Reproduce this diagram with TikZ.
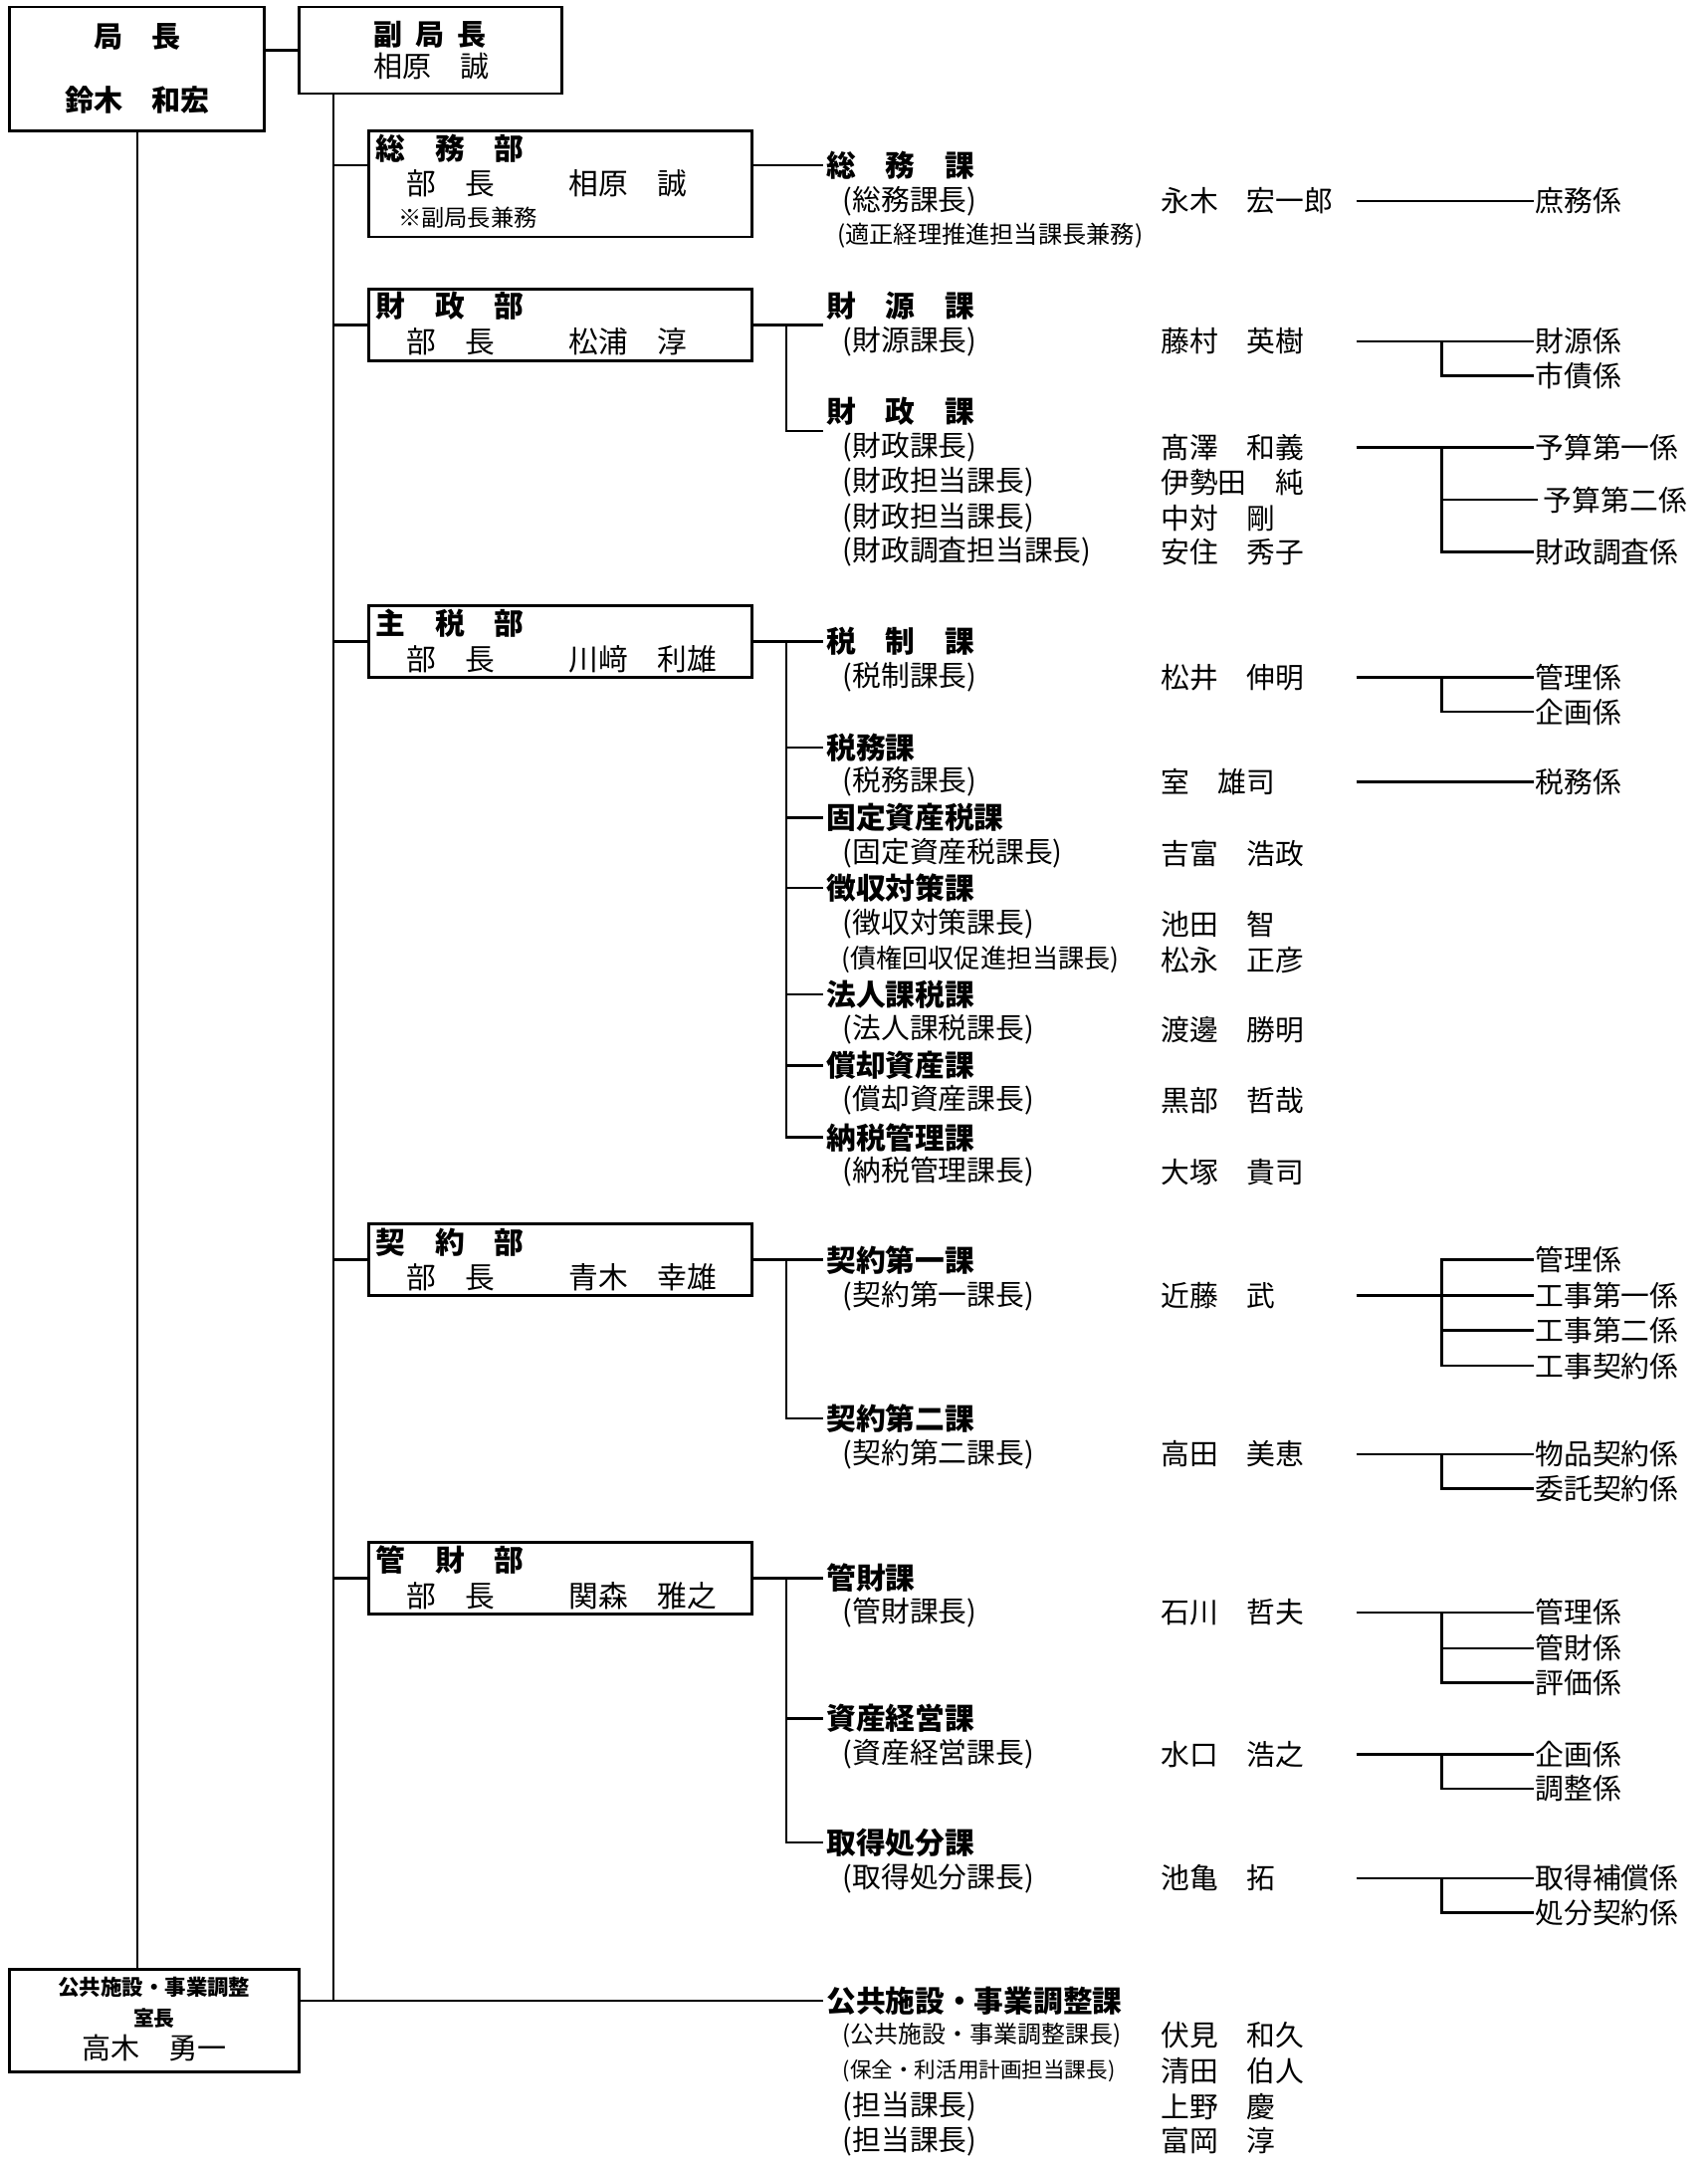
\documentclass[tikz,border=0pt]{standalone}
\usepackage{fontspec}
\setmainfont{Noto Sans CJK JP}
\newcommand\fz[1]{\fontsize{#1}{#1}\selectfont}
\tikzset{
  box/.style={draw, line width=2pt, rectangle, inner sep=0pt},
  tx/.style={anchor=west, inner sep=0pt, font=\fz{20.8}},
  hd/.style={anchor=west, inner xsep=2pt, inner ysep=0pt, font=\fz{21.5}\bfseries},
  kk/.style={anchor=west, inner xsep=1pt, inner ysep=0pt, font=\fz{20.8}},
  ln/.style={line width=1.8pt},
  tl/.style={line width=1.5pt}
}
\begin{document}
\begin{tikzpicture}[x=1pt,y=-1pt]
\useasboundingbox (0,0) rectangle (1240,1568);
\coordinate (trunk) at (242,0);
\coordinate (sub) at (571,0);
\coordinate (nm) at (985,0);
\coordinate (br) at (1047,0);

% ---------- top boxes
\node[box, minimum width=185pt, minimum height=90pt] (kyoku) at (99.5,50) {};
\node[font=\fz{21}\bfseries, inner sep=0pt] (kyokuT) at (99.5,27) {局　長};
\node[font=\fz{21}\bfseries, inner sep=0pt] (kyokuN) at (99.5,73) {鈴木　和宏};

\node[box, minimum width=191pt, minimum height=63pt] (fuku) at (312.5,36.5) {};
\node[tx, font=\fz{21}\bfseries] (fukuT) at (271,25) {副\hspace{.45em}局\hspace{.45em}長};
\node[tx, font=\fz{21}] (fukuN) at (271,48) {相原　誠};

\draw[ln] (kyoku.east |- fuku.west) -- (fuku.west);

% ---------- 室長 box
\node[box, minimum width=210pt, minimum height=75pt] (shitsu) at (112,1467.5) {};
\node[font=\fz{15.5}\bfseries, inner sep=0pt] (shitsuT) at (112,1443) {公共施設・事業調整};
\node[font=\fz{15}\bfseries, inner sep=0pt] (shitsuC) at (112,1466) {室長};
\node[font=\fz{21}, inner sep=0pt] (shitsuN) at (112,1487) {高木　勇一};
\draw[tl] (kyoku.south) -- (kyoku.south |- shitsu.north);

% ---------- department boxes
\node[box, minimum width=278pt, minimum height=77pt] (somubu) at (407,133.5) {};
\node[tx, font=\fz{21.5}\bfseries] at (273,108) {総　務　部};
\node[tx, font=\fz{21.5}] at (295,133) {部　長};
\node[tx, font=\fz{21.5}] at (413,133) {相原　誠};
\node[tx, font=\fz{16.8}] at (289,158) {※副局長兼務};

\node[box, minimum width=278pt, minimum height=52pt] (zaiseibu) at (407,236) {};
\node[tx, font=\fz{21.5}\bfseries] at (273,222) {財　政　部};
\node[tx, font=\fz{21.5}] at (295,248) {部　長};
\node[tx, font=\fz{21.5}] at (413,248) {松浦　淳};

\node[box, minimum width=278pt, minimum height=52pt] (shuzeibu) at (407,466) {};
\node[tx, font=\fz{21.5}\bfseries] at (273,453) {主　税　部};
\node[tx, font=\fz{21.5}] at (295,479) {部　長};
\node[tx, font=\fz{21.5}] at (413,479) {川﨑　利雄};

\node[box, minimum width=278pt, minimum height=52pt] (keiyakubu) at (407,915) {};
\node[tx, font=\fz{21.5}\bfseries] at (273,902) {契　約　部};
\node[tx, font=\fz{21.5}] at (295,928) {部　長};
\node[tx, font=\fz{21.5}] at (413,928) {青木　幸雄};

\node[box, minimum width=278pt, minimum height=52pt] (kanzaibu) at (407,1146) {};
\node[tx, font=\fz{21.5}\bfseries] at (273,1133) {管　財　部};
\node[tx, font=\fz{21.5}] at (295,1159) {部　長};
\node[tx, font=\fz{21.5}] at (413,1159) {関森　雅之};

% ---------- 総務部
\node[hd] (somuka) at (598,120) {総　務　課};
\node[tx] at (612,146) {(総務課長)};
\node[tx] at (843,146) {永木　宏一郎};
\node[tx, font=\fz{17.5}] at (608,171) {(適正経理推進担当課長兼務)};
\node[kk] (shomu) at (1114,146) {庶務係};
\draw[ln] ([yshift=13.5pt]somubu.west -| trunk) -- ([yshift=13.5pt]somubu.west);
\draw[ln] ([yshift=13.5pt]somubu.east) -- (somuka.west);
\draw[ln] (shomu.west -| nm) -- (shomu.west);

% ---------- 財政部
\node[hd] (zaigenka) at (598,222) {財　源　課};
\node[tx] at (612,248) {(財源課長)};
\node[tx] at (843,248) {藤村　英樹};
\node[kk] (zaigenkk) at (1114,248) {財源係};
\node[kk] (shisaikk) at (1114,273) {市債係};
\node[hd] (zaiseika) at (598,299) {財　政　課};
\node[tx] at (612,325) {(財政課長)};
\node[tx] at (843,325) {髙澤　和義};
\node[tx] at (612,350) {(財政担当課長)};
\node[tx] at (843,350) {伊勢田　純};
\node[tx] at (612,376) {(財政担当課長)};
\node[tx] at (843,376) {中対　剛};
\node[tx] at (612,401) {(財政調査担当課長)};
\node[tx] at (843,401) {安住　秀子};
\node[kk] (yosan1) at (1114,325) {予算第一係};
\node[kk] (yosan2) at (1120,363) {予算第二係};
\node[kk] (chosa) at (1114,401) {財政調査係};
\draw[ln] (zaiseibu.west -| trunk) -- (zaiseibu.west);
\draw[ln] (zaiseibu.east) -- (zaiseibu.east -| zaigenka.west);
\draw[ln] (zaiseibu.east -| sub) |- ([yshift=-14pt]zaiseika.west);
\draw[ln] (zaigenkk.west -| nm) -- (zaigenkk.west);
\draw[ln] (zaigenkk.west -| br) |- (shisaikk.west);
\draw[ln] (yosan1.west -| nm) -- (yosan1.west);
\draw[ln] (yosan1.west -| br) |- (chosa.west);
\draw[ln] (yosan2.west -| br) -- ([xshift=-3pt]yosan2.west);

% ---------- 主税部
\node[hd] (zeiseika) at (598,466) {税　制　課};
\node[tx] at (612,492) {(税制課長)};
\node[tx] at (843,492) {松井　伸明};
\node[kk] (kanri1) at (1114,492) {管理係};
\node[kk] (kikaku1) at (1114,517) {企画係};
\node[hd] (zeimuka) at (598,543) {税務課};
\node[tx] at (612,568) {(税務課長)};
\node[tx] at (843,568) {室　雄司};
\node[kk] (zeimukk) at (1114,568) {税務係};
\node[hd] (koteika) at (598,594) {固定資産税課};
\node[tx] at (612,620) {(固定資産税課長)};
\node[tx] at (843,620) {吉富　浩政};
\node[hd] (choshuka) at (598,645) {徴収対策課};
\node[tx] at (612,671) {(徴収対策課長)};
\node[tx] at (843,671) {池田　智};
\node[tx, font=\fz{18.9}] at (611,697) {(債権回収促進担当課長)};
\node[tx] at (843,697) {松永　正彦};
\node[hd] (hojinka) at (598,722) {法人課税課};
\node[tx] at (612,748) {(法人課税課長)};
\node[tx] at (843,748) {渡邊　勝明};
\node[hd] (shokyakuka) at (598,774) {償却資産課};
\node[tx] at (612,799) {(償却資産課長)};
\node[tx] at (843,799) {黒部　哲哉};
\node[hd] (nozeika) at (598,826) {納税管理課};
\node[tx] at (612,851) {(納税管理課長)};
\node[tx] at (843,851) {大塚　貴司};
\draw[ln] (shuzeibu.west -| trunk) -- (shuzeibu.west);
\draw[ln] (shuzeibu.east) -- (zeiseika.west);
\draw[ln] (shuzeibu.east -| sub) |- (nozeika.west);
\foreach \k in {zeimuka,koteika,choshuka,hojinka,shokyakuka}
  \draw[ln] (\k.west -| sub) -- (\k.west);
\draw[ln] (kanri1.west -| nm) -- (kanri1.west);
\draw[ln] (kanri1.west -| br) |- (kikaku1.west);
\draw[ln] (zeimukk.west -| nm) -- (zeimukk.west);

% ---------- 契約部
\node[hd] (keiyaku1) at (598,915) {契約第一課};
\node[tx] at (612,941) {(契約第一課長)};
\node[tx] at (843,941) {近藤　武};
\node[kk] (kanri2) at (1114,915) {管理係};
\node[kk] (koji1) at (1114,941) {工事第一係};
\node[kk] (koji2) at (1114,966) {工事第二係};
\node[kk] (kojik) at (1114,992) {工事契約係};
\node[hd] (keiyaku2) at (598,1030) {契約第二課};
\node[tx] at (612,1056) {(契約第二課長)};
\node[tx] at (843,1056) {高田　美恵};
\node[kk] (buppin) at (1114,1056) {物品契約係};
\node[kk] (itaku) at (1114,1081) {委託契約係};
\draw[ln] (keiyakubu.west -| trunk) -- (keiyakubu.west);
\draw[ln] (keiyakubu.east) -- (keiyaku1.west);
\draw[ln] (keiyakubu.east -| sub) |- (keiyaku2.west);
\draw[ln] (koji1.west -| nm) -- (koji1.west);
\draw[ln] (kanri2.west) -| (kojik.west -| br) -- (kojik.west);
\draw[ln] (koji2.west -| br) -- (koji2.west);
\draw[ln] (buppin.west -| nm) -- (buppin.west);
\draw[ln] (buppin.west -| br) |- (itaku.west);

% ---------- 管財部
\node[hd] (kanzaika) at (598,1146) {管財課};
\node[tx] at (612,1171) {(管財課長)};
\node[tx] at (843,1171) {石川　哲夫};
\node[kk] (kanri3) at (1114,1171) {管理係};
\node[kk] (kanzaikk) at (1114,1197) {管財係};
\node[kk] (hyoka) at (1114,1222) {評価係};
\node[hd] (shisanka) at (598,1248) {資産経営課};
\node[tx] at (612,1274) {(資産経営課長)};
\node[tx] at (843,1274) {水口　浩之};
\node[kk] (kikaku2) at (1114,1274) {企画係};
\node[kk] (chosei) at (1114,1299) {調整係};
\node[hd] (shutokuka) at (598,1338) {取得処分課};
\node[tx] at (612,1364) {(取得処分課長)};
\node[tx] at (843,1364) {池亀　拓};
\node[kk] (hosho) at (1114,1364) {取得補償係};
\node[kk] (shobun) at (1114,1389) {処分契約係};
\draw[ln] (kanzaibu.west -| trunk) -- (kanzaibu.west);
\draw[ln] (kanzaibu.east) -- (kanzaika.west);
\draw[ln] (kanzaibu.east -| sub) |- (shutokuka.west);
\draw[ln] (shisanka.west -| sub) -- (shisanka.west);
\draw[ln] (kanri3.west -| nm) -- (kanri3.west);
\draw[ln] (kanri3.west -| br) |- (hyoka.west);
\draw[ln] (kanzaikk.west -| br) -- (kanzaikk.west);
\draw[ln] (kikaku2.west -| nm) -- (kikaku2.west);
\draw[ln] (kikaku2.west -| br) |- (chosei.west);
\draw[ln] (hosho.west -| nm) -- (hosho.west);
\draw[ln] (hosho.west -| br) |- (shobun.west);

% ---------- 公共施設・事業調整課
\node[hd] (koukyoka) at (598,1453) {公共施設・事業調整課};
\node[tx, font=\fz{17.3}] at (612,1478) {(公共施設・事業調整課長)};
\node[tx] at (843,1478) {伏見　和久};
\node[tx, font=\fz{15.6}] at (612,1504) {(保全・利活用計画担当課長)};
\node[tx] at (843,1504) {清田　伯人};
\node[tx] at (612,1530) {(担当課長)};
\node[tx] at (843,1530) {上野　慶};
\node[tx] at (612,1555) {(担当課長)};
\node[tx] at (843,1555) {富岡　淳};
\draw[ln] ([yshift=14.5pt]shitsu.east) -- (koukyoka.west);

% ---------- trunk
\draw[tl] (fuku.south -| trunk) -- (koukyoka.west -| trunk);
\end{tikzpicture}
\end{document}
